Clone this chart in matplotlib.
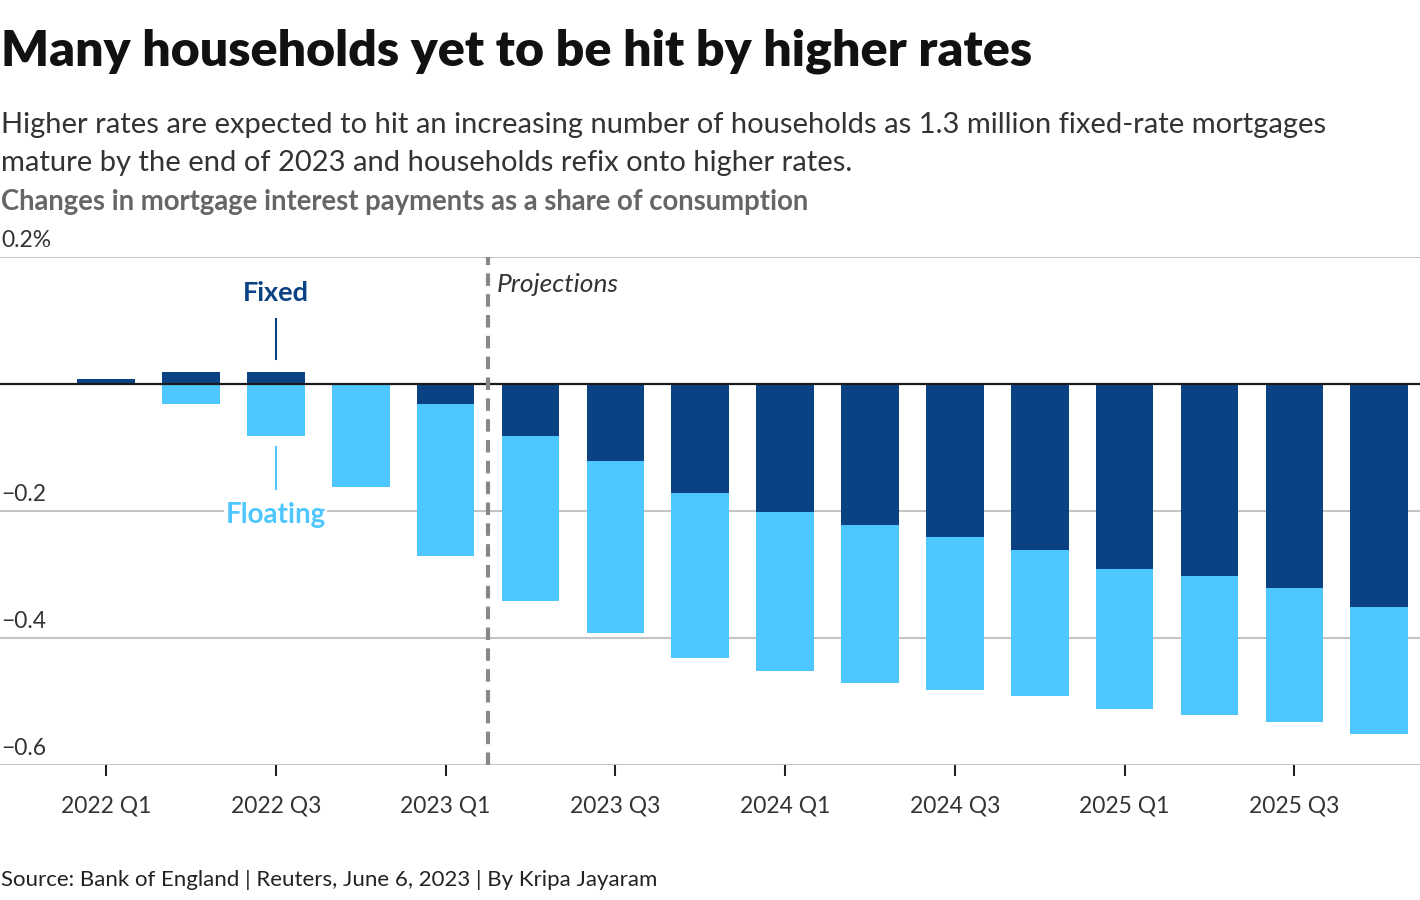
import numpy as np
import matplotlib.pyplot as plt

# mortgage interest payments, change as share of consumption (pp)
quarters = ['2022 Q1', '2022 Q2', '2022 Q3', '2022 Q4',
            '2023 Q1', '2023 Q2', '2023 Q3', '2023 Q4',
            '2024 Q1', '2024 Q2', '2024 Q3', '2024 Q4',
            '2025 Q1', '2025 Q2', '2025 Q3', '2025 Q4']
fixed = [0.008, 0.019, 0.019, 0.0,
         -0.031, -0.082, -0.121, -0.172,
         -0.202, -0.222, -0.241, -0.261,
         -0.291, -0.302, -0.321, -0.351]
floating = [0.0, -0.031, -0.082, -0.162,
            -0.240, -0.260, -0.271, -0.259,
            -0.250, -0.249, -0.241, -0.230,
            -0.221, -0.219, -0.211, -0.200]
y_ticks = [0.2, -0.2, -0.4, -0.6]
y_labels = ['0.2%', '\u22120.2', '\u22120.4', '\u22120.6']

DARK = '#0a4284'
LIGHT = '#4dc7fd'
TXT = '#333333'

plt.rcParams['font.family'] = ['Lato', 'DejaVu Sans']

fig = plt.figure(figsize=(14.2, 9), dpi=100)
ax = fig.add_axes([0, 0.15, 1, 0.5644])

x = np.arange(len(quarters))
fixed = np.array(fixed)
floating = np.array(floating)
ax.bar(x, fixed, width=0.68, color=DARK, zorder=3)
ax.bar(x, floating, width=0.68, bottom=np.minimum(fixed, 0), color=LIGHT, zorder=3)

ax.set_xlim(-1.25, 15.48)
ax.set_ylim(-0.6, 0.2)
for s in ax.spines.values():
    s.set_visible(False)
for v in y_ticks:
    ax.axhline(v, color='#c4c4c4', lw=1.5, zorder=1)
ax.axhline(0, color='#1a1a1a', lw=1.6, zorder=4)
ax.set_yticks([])
for v, lab in zip(y_ticks, y_labels):
    ax.text(0.001, v + 0.01, lab, transform=ax.get_yaxis_transform(),
            ha='left', va='bottom', fontsize=16.5, color=TXT)

ax.set_xticks(x[::2])
ax.set_xticklabels(quarters[::2], fontsize=16.5, color=TXT)
ax.tick_params(axis='x', length=8, width=1.5, color='#222222', pad=14)

# projections divider
ax.axvline(4.5, color='#888888', lw=3, ls=(0, (3, 2)), zorder=5)
ax.text(4.6, 0.156, 'Projections', fontsize=19, style='italic',
        color=TXT, ha='left', va='center')

# series labels
ax.text(2, 0.143, 'Fixed', fontsize=19.5, fontweight='bold', color=DARK,
        ha='center', va='center')
ax.plot([2, 2], [0.04, 0.103], color=DARK, lw=1.5)
ax.text(2, -0.206, 'Floating', fontsize=20, fontweight='bold', color=LIGHT,
        ha='center', va='center', zorder=6,
        bbox=dict(facecolor='white', edgecolor='none', pad=1))
ax.plot([2, 2], [-0.099, -0.165], color=LIGHT, lw=1.5)

fig.text(0.001, 0.943, 'Many households yet to be hit by higher rates',
         fontsize=36.1, fontweight='heavy', color='#111111', ha='left', va='center')
fig.text(0.001, 0.840, 'Higher rates are expected to hit an increasing number of '
         'households as 1.3 million fixed-rate mortgages\nmature by the end of '
         '2023 and households refix onto higher rates.',
         fontsize=21, color=TXT, ha='left', va='center', linespacing=1.6)
fig.text(0.001, 0.776, 'Changes in mortgage interest payments as a share of consumption',
         fontsize=19.8, fontweight='bold', color='#666666', ha='left', va='center')
fig.text(0.001, 0.022, 'Source: Bank of England | Reuters, June 6, 2023 | By Kripa Jayaram',
         fontsize=16, color='#222222', ha='left', va='center')

fig.savefig('out.png', dpi=100, facecolor='white')
